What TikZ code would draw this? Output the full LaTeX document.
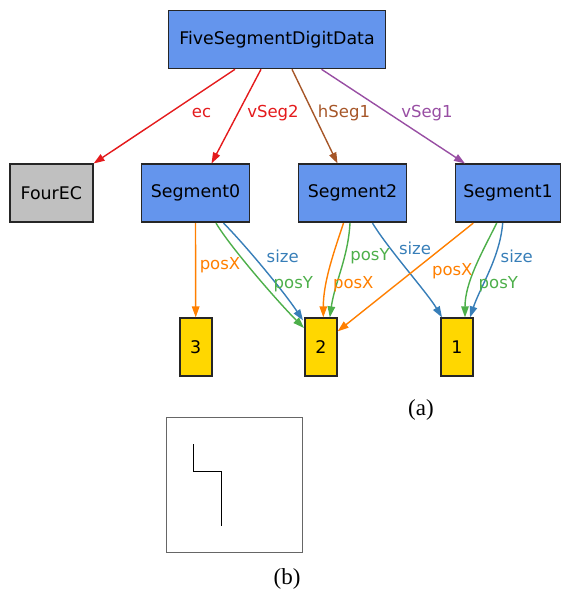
\documentclass[tikz,border=0pt]{standalone}
\usepackage{fontspec}
\setmainfont{DejaVu Sans}
\newfontfamily\capfont{Liberation Serif}
\usetikzlibrary{arrows.meta,positioning}
\definecolor{segblue}{HTML}{6495ED}
\definecolor{ecgray}{HTML}{C0C0C0}
\definecolor{digold}{HTML}{FFD700}
\definecolor{cred}{HTML}{E41A1C}
\definecolor{cbrown}{HTML}{A65628}
\definecolor{cpurple}{HTML}{984EA3}
\definecolor{corange}{HTML}{FF7F00}
\definecolor{cgreen}{HTML}{4DAF4A}
\definecolor{cblue}{HTML}{377EB8}

\begin{document}
\begin{tikzpicture}[x=1pt,y=-1pt,every node/.style={font=\fontsize{17.4}{20}\selectfont},
  box/.style={draw=black!85,line width=1.6pt,minimum height=58pt,inner sep=0pt},
  segbox/.style={box,fill=segblue,minimum width=108pt},
  digbox/.style={box,fill=digold,minimum width=32pt},
  lbl/.style={font=\fontsize{16.5}{19}\selectfont,inner sep=0pt},
  captxt/.style={font=\capfont\fontsize{23}{26}\selectfont,inner sep=0pt},
  ln/.style={line width=1.4pt,-{Triangle[length=11pt,width=7.5pt]}}]
\useasboundingbox (0,0) rectangle (562,593);
\node[box,fill=segblue,minimum width=217pt] (data) at (277,39.5) {FiveSegmentDigitData};
\node[box,fill=ecgray,minimum width=83pt] (ec) at (51.3,193.3) {FourEC};
\node[segbox] (seg0) at (195.5,193.3) {Segment0};
\node[segbox] (seg2) at (352.5,193.3) {Segment2};
\node[segbox,minimum width=105pt] (seg1) at (508,193.3) {Segment1};
\node[digbox] (d3) at (195.7,347.2) {3};
\node[digbox] (d2) at (320.8,347.2) {2};
\node[digbox] (d1) at (457,347.2) {1};
% top level members
\draw[ln,cred] ([xshift=-42pt]data.south) -- (ec.north east);
\draw[ln,cred] ([xshift=-16pt]data.south) -- ([xshift=16pt]seg0.north);
\draw[ln,cbrown] ([xshift=15pt]data.south) -- ([xshift=-15pt]seg2.north);
\draw[ln,cpurple] ([xshift=44.5pt]data.south) -- ([xshift=-43pt]seg1.north);
\node[lbl,text=cred] (lec) at (201.6,112.7) {ec};
\node[lbl,text=cred] (lvs2) at (273,112.7) {vSeg2};
\node[lbl,text=cbrown] (lhs1) at (344,112.7) {hSeg1};
\node[lbl,text=cpurple] (lvs1) at (427,112.7) {vSeg1};
% segment fields
\draw[ln,corange] (seg0.south) -- (d3.north);
\draw[ln,cgreen] ([xshift=20.5pt]seg0.south) .. controls +(15,25) and +(-25,-25) .. ([yshift=-10.6pt]d2.north west);
\draw[ln,cblue] ([xshift=28pt]seg0.south) .. controls +(20,20) and +(-20,-30) .. ([xshift=-1pt,yshift=-3pt]d2.north west);
\draw[ln,corange] ([xshift=-9pt]seg2.south) .. controls +(-10,30) and +(0,-35) .. ([xshift=2.5pt]d2.north);
\draw[ln,cgreen] ([xshift=-2.5pt]seg2.south) .. controls +(-2,35) and +(5,-35) .. ([xshift=9pt]d2.north);
\draw[ln,cblue] ([xshift=20pt]seg2.south) .. controls +(15,25) and +(-15,-25) .. ([xshift=-15pt]d1.north);
\draw[ln,corange] ([xshift=-34.7pt]seg1.south) -- ([yshift=-14pt]d2.north east);
\draw[ln,cgreen] ([xshift=-11.3pt]seg1.south) .. controls +(-15,30) and +(0,-35) .. ([xshift=8pt]d1.north);
\draw[ln,cblue] ([xshift=-5.3pt]seg1.south) .. controls +(-3,35) and +(10,-30) .. ([xshift=13pt]d1.north);
\node[lbl,text=corange] (lpx0) at (220,265) {posX};
\node[lbl,text=cblue] (lsz0) at (282.7,256.7) {size};
\node[lbl,text=cgreen] (lpy0) at (293.3,284) {posY};
\node[lbl,text=corange] (lpx2) at (353.3,284) {posX};
\node[lbl,text=cgreen] (lpy2) at (370,256.7) {posY};
\node[lbl,text=cblue] (lsz2) at (415,248) {size};
\node[lbl,text=corange] (lpx1) at (452.3,271.7) {posX};
\node[lbl,text=cgreen] (lpy1) at (498.3,284) {posY};
\node[lbl,text=cblue] (lsz1) at (516.7,256.7) {size};
\node[captxt] (capa) at (421,410) {(a)};
% rendered digit
\draw[black!60,line width=1pt] (166,417) rectangle (302,552);
\draw[line width=1pt] (193.3,444) -- (193.3,471) -- (221.3,471) -- (221.3,525.7);
\node[captxt] (capb) at (287,579) {(b)};
\end{tikzpicture}
\end{document}
